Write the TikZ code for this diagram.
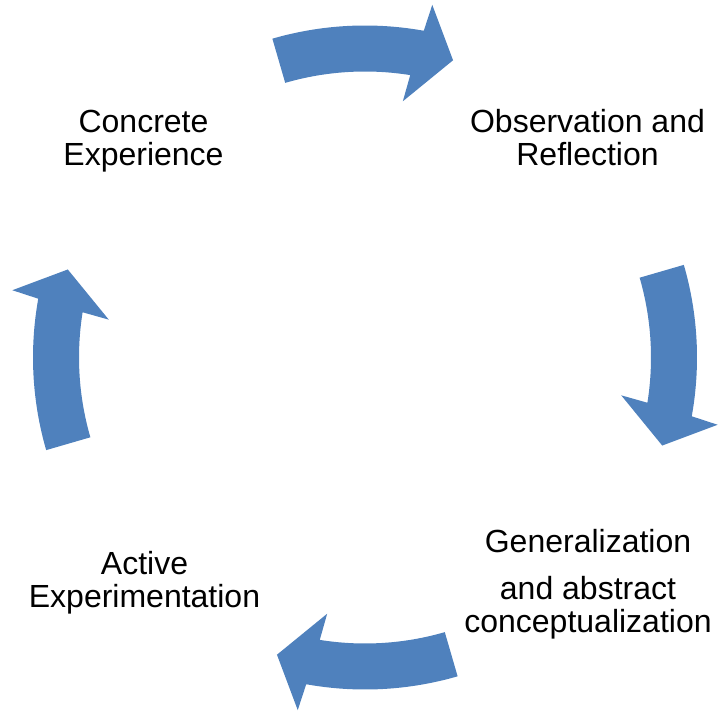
\documentclass[tikz,border=0pt]{standalone}
\usepackage{fontspec}
\setmainfont{Liberation Sans}
\usetikzlibrary{calc}
\definecolor{arrowblue}{HTML}{4F81BD}
\tikzset{
  lbl/.style={font=\fontsize{32}{33}\selectfont, align=center, inner sep=0pt, anchor=base},
  cyc/.style={fill=arrowblue, draw=none}
}
\begin{document}
\begin{tikzpicture}[x=1pt,y=1pt]
\useasboundingbox (0,0) rectangle (719,715);
\coordinate (C) at (365,357.5);
\foreach \t [count=\i] in {90,0,-90,180}{
  \fill[cyc] ($(C)+(\t+16.2:332)$)
    arc[start angle=\t+16.2, end angle=\t-10.2, radius=332]
    -- ($(C)+(\t-10.8:359)$)
    -- ($(C)+(\t-16.5:310)$)
    -- ($(C)+(\t-8.4:259)$)
    -- ($(C)+(\t-9.1:286)$)
    arc[start angle=\t-9.1, end angle=\t+16.2, radius=286]
    -- cycle;
}
\node[lbl] (ce) at (143.5,549) {Concrete\\Experience};
\node[lbl] (or) at (587.5,549) {Observation and\\Reflection};
\node[lbl] (ga) at (588,83) {Generalization\\[14pt]and abstract\\conceptualization};
\node[lbl] (ae) at (144.5,108) {Active\\Experimentation};
\end{tikzpicture}
\end{document}
